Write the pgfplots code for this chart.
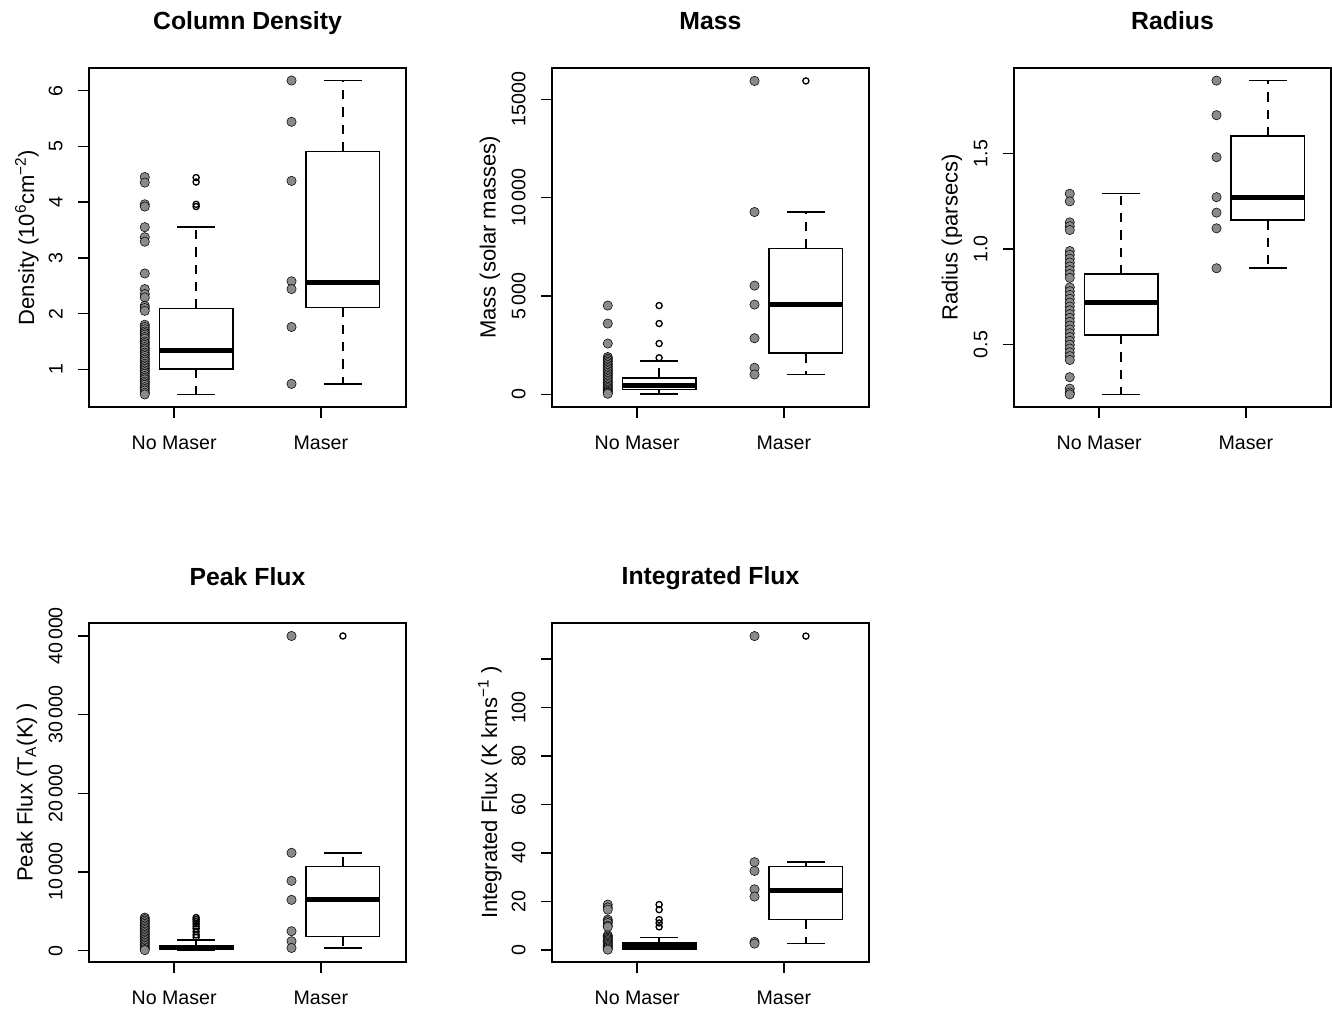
\documentclass[border=0pt]{standalone}
\usepackage{pgfplots}
\pgfplotsset{compat=1.18}
\usepgfplotslibrary{statistics}
\usepackage{fontspec}
\setmainfont{Liberation Sans}
\definecolor{dotgray}{RGB}{138,138,140}
\newcommand{\lblfont}{\fontsize{14.7}{17}\selectfont}
\newcommand{\ylblfont}{\fontsize{16.5}{19}\selectfont}
\pgfplotsset{
  panel/.style={
    scale only axis, width=237.75pt, height=254.25pt, anchor=south west,
    xmin=0.42, xmax=2.58, xtick={1,2}, xticklabels={No Maser, Maser},
    tick align=outside, major tick length=8pt,
    xtick pos=left, ytick pos=left,
    scaled y ticks=false,
    tick style={black, line width=1pt},
    axis line style={line width=1.2pt},
    ticklabel style={font=\lblfont},
    xticklabel shift=10.5pt,
    yticklabel shift=8.25pt,
    yticklabel style={rotate=90, anchor=south},
    title style={font=\bfseries\fontsize{18.6}{22}\selectfont, at={(axis description cs:0.5,1)}, anchor=base, yshift=22.5pt},
    every axis y label/.style={at={(axis description cs:-0.196,0.5)}, rotate=90, anchor=center, font=\ylblfont},
    /pgf/number format/assume math mode=true,
    clip=false,
  },
  dots/.style={only marks, mark=*, mark size=3.5pt, mark options={draw=none, fill=dotgray}},
  outl/.style={only marks, mark=o, mark size=2.3pt, mark options={draw=black, line width=1pt}},
  bx/.style={black, line width=1.2pt, boxplot/draw direction=y,
    boxplot/every whisker/.style={dash pattern=on 7pt off 6pt},
    boxplot/every median/.style={line width=3.75pt}},
  cap/.style={black, line width=1.2pt, solid},
}
\begin{document}
\begin{tikzpicture}
\path[use as bounding box] (0,0) rectangle (999pt,758.25pt);

% ---------------- Column Density ----------------
\begin{axis}[panel, at={(66.75pt,453pt)}, title={Column Density},
  ylabel={Density (10\textsuperscript{6}cm\textsuperscript{−2})},
  ymin=0.325, ymax=6.405, ytick={1,2,3,4,5,6}, yticklabels={1,2,3,4,5,6}]
\addplot[dots] coordinates {
 (0.8,4.45) (0.8,4.35) (0.8,3.96) (0.8,3.92) (0.8,3.55) (0.8,3.37) (0.8,3.29)
 (0.8,2.72) (0.8,2.44) (0.8,2.35) (0.8,2.29) (0.8,2.14) (0.8,2.10) (0.8,2.05)
 (0.8,1.80) (0.8,1.76) (0.8,1.72) (0.8,1.68) (0.8,1.65) (0.8,1.62) (0.8,1.58)
 (0.8,1.55) (0.8,1.50) (0.8,1.47) (0.8,1.44) (0.8,1.40) (0.8,1.37) (0.8,1.34)
 (0.8,1.30) (0.8,1.27) (0.8,1.24) (0.8,1.20) (0.8,1.17) (0.8,1.14) (0.8,1.10)
 (0.8,1.07) (0.8,1.04) (0.8,1.01) (0.8,0.98) (0.8,0.95) (0.8,0.92) (0.8,0.88)
 (0.8,0.85) (0.8,0.82) (0.8,0.78) (0.8,0.75) (0.8,0.72) (0.8,0.68) (0.8,0.65)
 (0.8,0.62) (0.8,0.58) (0.8,0.55)};
\addplot[dots] coordinates {(1.8,6.18) (1.8,5.44) (1.8,4.38) (1.8,2.58) (1.8,2.44) (1.8,1.76) (1.8,0.74)};
\addplot[bx, boxplot prepared={draw position=1.15, box extend=0.5, whisker extend=0,
  lower whisker=0.55, lower quartile=1.01, median=1.34, upper quartile=2.09, upper whisker=3.55}] coordinates {};
\addplot[cap] coordinates {(1.02,0.55) (1.28,0.55)};
\addplot[cap] coordinates {(1.02,3.55) (1.28,3.55)};
\addplot[outl] coordinates {(1.15,4.44) (1.15,4.36) (1.15,3.96) (1.15,3.92)};
\addplot[bx, boxplot prepared={draw position=2.15, box extend=0.5, whisker extend=0,
  lower whisker=0.74, lower quartile=2.11, median=2.55, upper quartile=4.91, upper whisker=6.18}] coordinates {};
\addplot[cap] coordinates {(2.02,0.74) (2.28,0.74)};
\addplot[cap] coordinates {(2.02,6.18) (2.28,6.18)};
\end{axis}

% ---------------- Mass ----------------
\begin{axis}[panel, at={(414pt,453pt)}, title={Mass},
  ylabel={Mass (solar masses)},
  ymin=-638, ymax=16588, ytick={0,5000,10000,15000}, yticklabels={0,5\,000,10\,000,15000}]
\addplot[dots] coordinates {
 (0.8,4515) (0.8,3602) (0.8,2587) (0.8,1900) (0.8,1820) (0.8,1740) (0.8,1660)
 (0.8,1580) (0.8,1500) (0.8,1420) (0.8,1340) (0.8,1260) (0.8,1180) (0.8,1100)
 (0.8,1020) (0.8,940) (0.8,860) (0.8,780) (0.8,700) (0.8,620) (0.8,540)
 (0.8,460) (0.8,390) (0.8,320) (0.8,250) (0.8,190) (0.8,130) (0.8,80) (0.8,35)};
\addplot[dots] coordinates {(1.8,15931) (1.8,9269) (1.8,5530) (1.8,4566) (1.8,2858) (1.8,1353) (1.8,1015)};
\addplot[bx, boxplot prepared={draw position=1.15, box extend=0.5, whisker extend=0,
  lower whisker=35, lower quartile=254, median=456, upper quartile=846, upper whisker=1691}] coordinates {};
\addplot[cap] coordinates {(1.02,35) (1.28,35)};
\addplot[cap] coordinates {(1.02,1691) (1.28,1691)};
\addplot[outl] coordinates {(1.15,4515) (1.15,3602) (1.15,2587) (1.15,1862)};
\addplot[bx, boxplot prepared={draw position=2.15, box extend=0.5, whisker extend=0,
  lower whisker=1015, lower quartile=2097, median=4583, upper quartile=7407, upper whisker=9269}] coordinates {};
\addplot[cap] coordinates {(2.02,1015) (2.28,1015)};
\addplot[cap] coordinates {(2.02,9269) (2.28,9269)};
\addplot[outl] coordinates {(2.15,15931)};
\end{axis}

% ---------------- Radius ----------------
\begin{axis}[panel, at={(760.5pt,453pt)}, title={Radius},
  ylabel={Radius (parsecs)},
  ymin=0.174, ymax=1.948, ytick={0.5,1.0,1.5}, yticklabels={0.5,1.0,1.5}]
\addplot[dots] coordinates {
 (0.8,1.29) (0.8,1.25) (0.8,1.14) (0.8,1.12) (0.8,1.10) (0.8,0.99) (0.8,0.97)
 (0.8,0.95) (0.8,0.93) (0.8,0.91) (0.8,0.89) (0.8,0.87) (0.8,0.85) (0.8,0.80)
 (0.8,0.78) (0.8,0.76) (0.8,0.74) (0.8,0.72) (0.8,0.70) (0.8,0.68) (0.8,0.66)
 (0.8,0.64) (0.8,0.62) (0.8,0.60) (0.8,0.58) (0.8,0.56) (0.8,0.54) (0.8,0.52)
 (0.8,0.50) (0.8,0.48) (0.8,0.46) (0.8,0.44) (0.8,0.42) (0.8,0.33) (0.8,0.27)
 (0.8,0.25) (0.8,0.24)};
\addplot[dots] coordinates {(1.8,1.882) (1.8,1.701) (1.8,1.481) (1.8,1.272) (1.8,1.191) (1.8,1.109) (1.8,0.900)};
\addplot[bx, boxplot prepared={draw position=1.15, box extend=0.5, whisker extend=0,
  lower whisker=0.24, lower quartile=0.551, median=0.722, upper quartile=0.869, upper whisker=1.291}] coordinates {};
\addplot[cap] coordinates {(1.02,0.24) (1.28,0.24)};
\addplot[cap] coordinates {(1.02,1.291) (1.28,1.291)};
\addplot[bx, boxplot prepared={draw position=2.15, box extend=0.5, whisker extend=0,
  lower whisker=0.900, lower quartile=1.151, median=1.272, upper quartile=1.591, upper whisker=1.882}] coordinates {};
\addplot[cap] coordinates {(2.02,0.900) (2.28,0.900)};
\addplot[cap] coordinates {(2.02,1.882) (2.28,1.882)};
\end{axis}

% ---------------- Peak Flux ----------------
\begin{axis}[panel, at={(66.75pt,36.75pt)}, title={Peak Flux},
  ylabel={Peak Flux (T\textsubscript{A}(K) )},
  ymin=-1450, ymax=41650, ytick={0,10000,20000,30000,40000},
  yticklabels={0,10\,000,20\,000,30\,000,40\,000}]
\addplot[dots] coordinates {
 (0.8,4200) (0.8,4000) (0.8,3800) (0.8,3600) (0.8,3400) (0.8,3200) (0.8,3000)
 (0.8,2800) (0.8,2600) (0.8,2400) (0.8,2200) (0.8,2000) (0.8,1800) (0.8,1600)
 (0.8,1400) (0.8,1200) (0.8,1000) (0.8,800) (0.8,600) (0.8,400) (0.8,200) (0.8,60)};
\addplot[dots] coordinates {(1.8,40000) (1.8,12434) (1.8,8870) (1.8,6452) (1.8,2460) (1.8,1190) (1.8,340)};
\addplot[bx, boxplot prepared={draw position=1.15, box extend=0.5, whisker extend=0,
  lower whisker=60, lower quartile=150, median=380, upper quartile=640, upper whisker=1310}] coordinates {};
\addplot[cap] coordinates {(1.02,60) (1.28,60)};
\addplot[cap] coordinates {(1.02,1310) (1.28,1310)};
\addplot[outl] coordinates {(1.15,4200) (1.15,3950) (1.15,3700) (1.15,3400) (1.15,3100) (1.15,2800) (1.15,2400) (1.15,2000) (1.15,1700)};
\addplot[bx, boxplot prepared={draw position=2.15, box extend=0.5, whisker extend=0,
  lower whisker=340, lower quartile=1780, median=6490, upper quartile=10690, upper whisker=12434}] coordinates {};
\addplot[cap] coordinates {(2.02,340) (2.28,340)};
\addplot[cap] coordinates {(2.02,12434) (2.28,12434)};
\addplot[outl] coordinates {(2.15,40000)};
\end{axis}

% ---------------- Integrated Flux ----------------
\begin{axis}[panel, at={(414pt,36.75pt)}, title={Integrated Flux},
  ylabel={Integrated Flux (K kms\textsuperscript{−1} )},
  ymin=-5.0, ymax=134.9, ytick={0,20,40,60,80,100,120},
  yticklabels={0,20,40,60,80,100,{}}]
\addplot[dots] coordinates {
 (0.8,18.7) (0.8,17.5) (0.8,16.6) (0.8,12.5) (0.8,11.8) (0.8,11.1) (0.8,10.0)
 (0.8,9.5) (0.8,6.0) (0.8,5.5) (0.8,5.0) (0.8,4.5) (0.8,4.0) (0.8,3.5)
 (0.8,3.0) (0.8,2.5) (0.8,2.0) (0.8,1.5) (0.8,1.0) (0.8,0.5) (0.8,0.1)};
\addplot[dots] coordinates {(1.8,129.5) (1.8,36.2) (1.8,32.6) (1.8,25.0) (1.8,22.0) (1.8,3.3) (1.8,2.6)};
\addplot[bx, boxplot prepared={draw position=1.15, box extend=0.5, whisker extend=0,
  lower whisker=0.1, lower quartile=0.4, median=1.5, upper quartile=2.9, upper whisker=5.1}] coordinates {};
\addplot[cap] coordinates {(1.02,0.1) (1.28,0.1)};
\addplot[cap] coordinates {(1.02,5.1) (1.28,5.1)};
\addplot[outl] coordinates {(1.15,18.7) (1.15,16.6) (1.15,12.5) (1.15,11.1) (1.15,9.5)};
\addplot[bx, boxplot prepared={draw position=2.15, box extend=0.5, whisker extend=0,
  lower whisker=2.6, lower quartile=12.6, median=24.7, upper quartile=34.4, upper whisker=36.2}] coordinates {};
\addplot[cap] coordinates {(2.02,2.6) (2.28,2.6)};
\addplot[cap] coordinates {(2.02,36.2) (2.28,36.2)};
\addplot[outl] coordinates {(2.15,129.5)};
\end{axis}
\end{tikzpicture}
\end{document}
